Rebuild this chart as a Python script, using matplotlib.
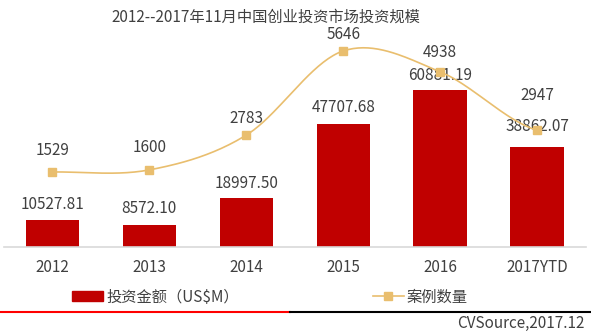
import matplotlib
matplotlib.use("Agg")
import matplotlib.pyplot as plt
import numpy as np
from matplotlib.lines import Line2D
from matplotlib.patches import Patch

plt.rcParams['font.family'] = ['Noto Sans CJK SC', 'DejaVu Sans']

# data
years = ['2012', '2013', '2014', '2015', '2016', '2017YTD']
amount = [10527.81, 8572.10, 18997.50, 47707.68, 60881.19, 38862.07]   # 投资金额 (US$M)
cases = [1529, 1600, 2783, 5646, 4938, 2947]                          # 案例数量

bar_color = '#C00000'
line_color = '#E9BE6E'
text_color = '#404040'

# label offsets above marks, in pixels
bar_lbl_off = [15, 16, 15, 16, 14, 20]
line_lbl_off = [21, 22, 17, 16, 19, 35]


def smooth(xs, ys, n=40):
    # catmull-rom curve through the points (same look as a "smoothed line")
    xs = np.asarray(xs, float)
    ys = np.asarray(ys, float)
    px = np.concatenate([[2 * xs[0] - xs[1]], xs, [2 * xs[-1] - xs[-2]]])
    py = np.concatenate([[ys[0]], ys, [ys[-1]]])
    out_x, out_y = [], []
    for i in range(1, len(px) - 2):
        t = np.linspace(0, 1, n)
        for p, out in ((px, out_x), (py, out_y)):
            p0, p1, p2, p3 = p[i - 1], p[i], p[i + 1], p[i + 2]
            out.extend(0.5 * ((2 * p1) + (-p0 + p2) * t
                              + (2 * p0 - 5 * p1 + 4 * p2 - p3) * t ** 2
                              + (-p0 + 3 * p1 - 3 * p2 + p3) * t ** 3))
    return np.array(out_x), np.array(out_y)


fig = plt.figure(figsize=(5.91, 3.34), dpi=100)
ax = fig.add_axes([4 / 591, 87 / 334, 581.5 / 591, 217 / 334])
x = np.arange(len(years))

bars = ax.bar(x, amount, width=0.55, color=bar_color, zorder=2)
ax.set_xlim(-0.5, len(years) - 0.5)
ax.set_ylim(0, 84140)
for xi, v, off in zip(x, amount, bar_lbl_off):
    ax.annotate('%.2f' % v, (xi, v), xytext=(0, off), textcoords='offset pixels',
                ha='center', va='center', fontsize=11, color=text_color)

ax2 = ax.twinx()
ax2.set_ylim(-1024, 6359)
sx, sy = smooth(x, cases)
ax2.plot(sx, sy, color=line_color, lw=1.2, zorder=3)
ax2.plot(x, cases, ls='none', marker='s', ms=5.5, color=line_color, zorder=4)
for xi, v, off in zip(x, cases, line_lbl_off):
    ax2.annotate(str(v), (xi, v), xytext=(0, off), textcoords='offset pixels',
                 ha='center', va='center', fontsize=11, color=text_color)

for a in (ax, ax2):
    for s in ('top', 'left', 'right'):
        a.spines[s].set_visible(False)
    a.set_yticks([])
ax2.spines['bottom'].set_visible(False)
ax.spines['bottom'].set_color('#D9D9D9')
ax.spines['bottom'].set_linewidth(1.2)
ax.set_xticks(x)
ax.set_xticklabels(years, fontsize=11, color=text_color)
ax.tick_params(axis='x', length=0, pad=9)

# title
fig.text(266 / 591, 1 - 17 / 334, '2012--2017年11月中国创业投资市场投资规模',
         ha='center', va='center', fontsize=11, color=text_color)

# legend
handles = [Patch(color=bar_color),
           Line2D([], [], color=line_color, lw=1.2, marker='s', ms=5.5)]
fig.legend(handles, ['投资金额（US$M）', '案例数量'], loc='center',
           bbox_to_anchor=(270 / 591, 1 - 297 / 334), ncol=2, frameon=False,
           fontsize=11, labelcolor=text_color, handlelength=2.0,
           handleheight=0.6, handletextpad=0.2, columnspacing=8.8)

# footer rule and source
ysep = 1 - 312 / 334
fig.add_artist(Line2D([0, 290 / 591], [ysep, ysep], color='#FF0000', lw=1.5,
                      transform=fig.transFigure))
fig.add_artist(Line2D([290 / 591, 1], [ysep, ysep], color='#000000', lw=1.5,
                      transform=fig.transFigure))
fig.text(584 / 591, 1 - 323 / 334, 'CVSource,2017.12', ha='right', va='center',
         fontsize=11, color=text_color)

fig.savefig('out.png', dpi=100)
